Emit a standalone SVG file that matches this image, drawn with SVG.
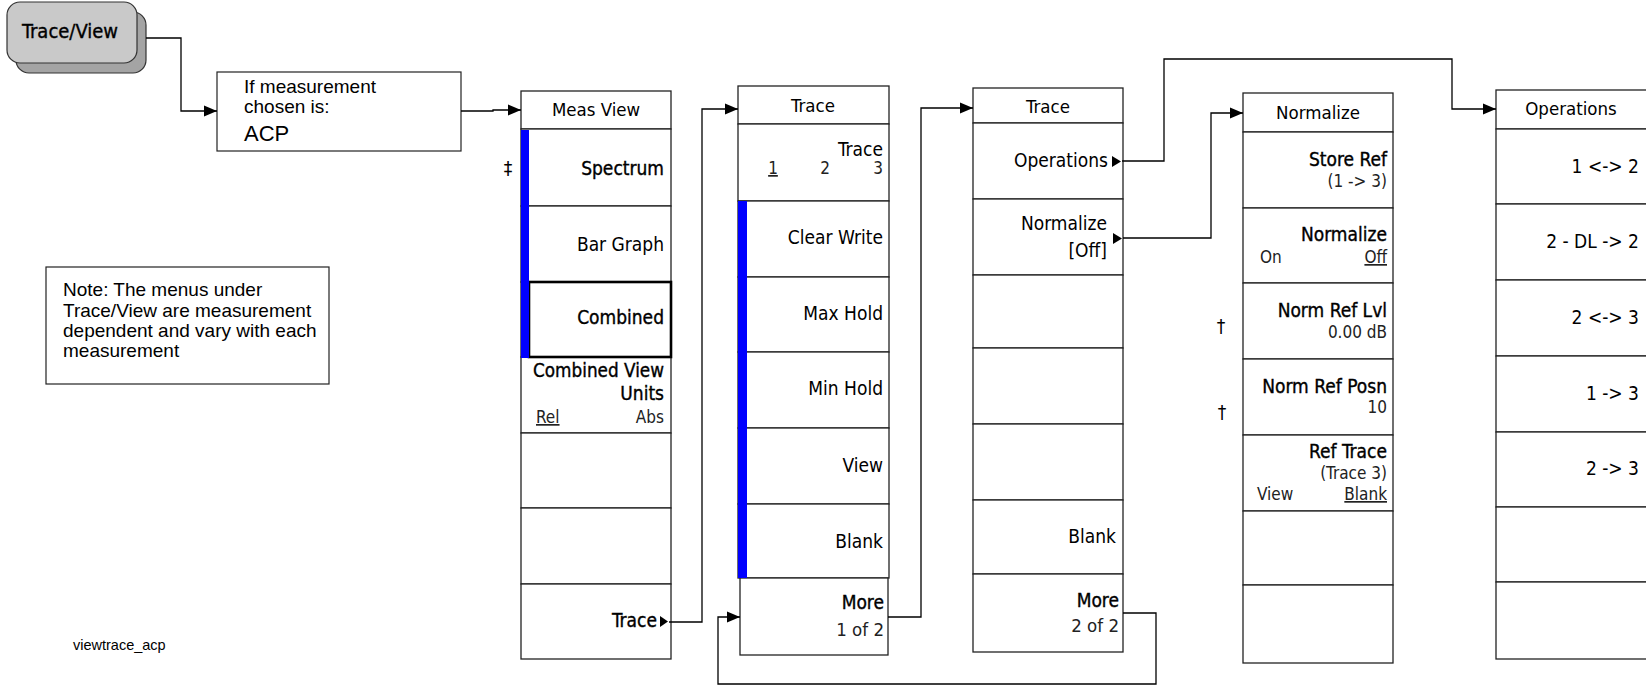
<svg xmlns="http://www.w3.org/2000/svg" width="1646" height="686" viewBox="0 0 1646 686">
<defs>
<marker id="ah" markerUnits="userSpaceOnUse" markerWidth="14" markerHeight="12" refX="13" refY="6" orient="auto">
<path d="M0,0.5 L13,6 L0,11.5 Z" fill="#000"/>
</marker>
<style>
.cell{fill:#fff;stroke:#222;stroke-width:1.3}
.m{font-family:"DejaVu Sans Condensed","DejaVu Sans",sans-serif;font-size:19px;fill:#000}
.h{font-size:18.5px}
.b{stroke:#000;stroke-width:0.35}
.s{font-family:"DejaVu Sans Condensed","DejaVu Sans",sans-serif;font-size:17px;fill:#222}
.r{text-anchor:end}
.c{text-anchor:middle}
.u{text-decoration:underline}
.a{font-family:"Liberation Sans",Arial,sans-serif;fill:#000;font-size:19px}
.con{fill:none;stroke:#000;stroke-width:1.3}
.blue{fill:#0000ff}
.tri{fill:#000}
</style>
</defs>
<rect width="1646" height="686" fill="#fff"/>

<g id="btn-traceview">
<rect x="16" y="12" width="130" height="61" rx="13" fill="#a4a4a4" stroke="#333" stroke-width="1.2"/>
<rect x="7" y="2" width="130" height="61" rx="13" fill="#c9c9c9" stroke="#333" stroke-width="1.2"/>
<text x="70" y="38" class="m c b" style="font-size:20px">Trace/View</text>
</g>

<g id="box-if">
<rect x="217" y="72" width="244" height="79" fill="#fff" stroke="#222" stroke-width="1.2"/>
<text x="244" y="93" class="a">If measurement</text>
<text x="244" y="113" class="a">chosen is:</text>
<text x="244" y="141" class="a" style="font-size:22px">ACP</text>
</g>

<g id="note">
<rect x="46" y="267" width="283" height="117" fill="#fff" stroke="#222" stroke-width="1.2"/>
<text x="63" y="296" class="a">Note: The menus under</text>
<text x="63" y="317" class="a">Trace/View are measurement</text>
<text x="63" y="337" class="a">dependent and vary with each</text>
<text x="63" y="357" class="a">measurement</text>
</g>

<text x="73" y="650" class="a" style="font-size:14.5px">viewtrace_acp</text>

<g id="menu-measview">
<rect class="cell" x="521" y="91" width="150" height="38"/>
<rect class="cell" x="521" y="129" width="150" height="77"/>
<rect class="cell" x="521" y="206" width="150" height="76"/>
<rect class="cell" x="521" y="282" width="150" height="75"/>
<rect class="cell" x="521" y="357" width="150" height="76"/>
<rect class="cell" x="521" y="433" width="150" height="75"/>
<rect class="cell" x="521" y="508" width="150" height="76"/>
<rect class="cell" x="521" y="584" width="150" height="75"/>
<rect x="529" y="282" width="142" height="75" fill="none" stroke="#000" stroke-width="2.6"/>
<rect class="blue" x="521" y="130" width="8" height="228"/>
<text x="596" y="116" class="m h c">Meas View</text>
<text x="664" y="175" class="m r b">Spectrum</text>
<text x="664" y="251" class="m r">Bar Graph</text>
<text x="664" y="324" class="m r b">Combined</text>
<text x="664" y="377" class="m r b" textLength="131" lengthAdjust="spacingAndGlyphs">Combined View</text>
<text x="664" y="400" class="m r b">Units</text>
<text x="536" y="423" class="s u">Rel</text>
<text x="664" y="423" class="s r">Abs</text>
<text x="657" y="627" class="m r b">Trace</text>
<path class="tri" d="M660,616 L668,621.5 L660,627 Z"/>
<text x="508" y="175" class="m c">‡</text>
</g>

<g id="menu-trace1">
<rect class="cell" x="738" y="86" width="151" height="38"/>
<rect class="cell" x="738" y="124" width="151" height="77"/>
<rect class="cell" x="738" y="201" width="151" height="76"/>
<rect class="cell" x="738" y="277" width="151" height="75"/>
<rect class="cell" x="738" y="352" width="151" height="76"/>
<rect class="cell" x="738" y="428" width="151" height="76"/>
<rect class="cell" x="738" y="504" width="151" height="74"/>
<rect class="cell" x="740" y="578" width="148" height="77"/>
<rect class="blue" x="738" y="201" width="9" height="377"/>
<text x="813" y="112" class="m h c">Trace</text>
<text x="883" y="156" class="m r">Trace</text>
<text x="773" y="174" class="s c u">1</text>
<text x="825" y="174" class="s c">2</text>
<text x="883" y="174" class="s r">3</text>
<text x="883" y="244" class="m r">Clear Write</text>
<text x="883" y="320" class="m r">Max Hold</text>
<text x="883" y="395" class="m r">Min Hold</text>
<text x="883" y="472" class="m r">View</text>
<text x="883" y="548" class="m r">Blank</text>
<text x="884" y="609" class="m r b">More</text>
<text x="884" y="636" class="s r" style="font-size:18.5px">1 of 2</text>
</g>

<g id="menu-trace2">
<rect class="cell" x="973" y="88" width="150" height="35"/>
<rect class="cell" x="973" y="123" width="150" height="76"/>
<rect class="cell" x="973" y="199" width="150" height="76"/>
<rect class="cell" x="973" y="275" width="150" height="73"/>
<rect class="cell" x="973" y="348" width="150" height="76"/>
<rect class="cell" x="973" y="424" width="150" height="76"/>
<rect class="cell" x="973" y="500" width="150" height="74"/>
<rect class="cell" x="973" y="574" width="150" height="78"/>
<text x="1048" y="113" class="m h c">Trace</text>
<text x="1108" y="167" class="m r">Operations</text>
<path class="tri" d="M1112,156 L1121,161.5 L1112,167 Z"/>
<text x="1107" y="230" class="m r">Normalize</text>
<text x="1107" y="257" class="m r">[Off]</text>
<path class="tri" d="M1113,233 L1122,238.5 L1113,244 Z"/>
<text x="1116" y="543" class="m r">Blank</text>
<text x="1119" y="607" class="m r b">More</text>
<text x="1119" y="632" class="s r" style="font-size:18.5px">2 of 2</text>
</g>

<g id="menu-normalize">
<rect class="cell" x="1243" y="93" width="150" height="39"/>
<rect class="cell" x="1243" y="132" width="150" height="76"/>
<rect class="cell" x="1243" y="208" width="150" height="75"/>
<rect class="cell" x="1243" y="283" width="150" height="76"/>
<rect class="cell" x="1243" y="359" width="150" height="76"/>
<rect class="cell" x="1243" y="435" width="150" height="76"/>
<rect class="cell" x="1243" y="511" width="150" height="74"/>
<rect class="cell" x="1243" y="585" width="150" height="78"/>
<text x="1318" y="119" class="m h c">Normalize</text>
<text x="1387" y="166" class="m r b">Store Ref</text>
<text x="1387" y="187" class="s r">(1 -&gt; 3)</text>
<text x="1387" y="241" class="m r b">Normalize</text>
<text x="1260" y="263" class="s">On</text>
<text x="1387" y="263" class="s r u">Off</text>
<text x="1387" y="317" class="m r b">Norm Ref Lvl</text>
<text x="1387" y="338" class="s r">0.00 dB</text>
<text x="1387" y="393" class="m r b">Norm Ref Posn</text>
<text x="1387" y="413" class="s r">10</text>
<text x="1387" y="458" class="m r b">Ref Trace</text>
<text x="1387" y="479" class="s r">(Trace 3)</text>
<text x="1257" y="500" class="s">View</text>
<text x="1387" y="500" class="s r u">Blank</text>
<text x="1221" y="333" class="m c">†</text>
<text x="1222" y="419" class="m c">†</text>
</g>

<g id="menu-operations">
<rect class="cell" x="1496" y="90" width="152" height="39"/>
<rect class="cell" x="1496" y="129" width="152" height="75"/>
<rect class="cell" x="1496" y="204" width="152" height="76"/>
<rect class="cell" x="1496" y="280" width="152" height="76"/>
<rect class="cell" x="1496" y="356" width="152" height="76"/>
<rect class="cell" x="1496" y="432" width="152" height="75"/>
<rect class="cell" x="1496" y="507" width="152" height="75"/>
<rect class="cell" x="1496" y="582" width="152" height="77"/>
<text x="1571" y="115" class="m h c">Operations</text>
<text x="1639" y="173" class="m r">1 &lt;-&gt; 2</text>
<text x="1639" y="248" class="m r">2 - DL -&gt; 2</text>
<text x="1639" y="324" class="m r">2 &lt;-&gt; 3</text>
<text x="1639" y="400" class="m r">1 -&gt; 3</text>
<text x="1639" y="475" class="m r">2 -&gt; 3</text>
</g>

<g id="connectors">
<path class="con" d="M146,38 H181 V111 H217" marker-end="url(#ah)"/>
<path class="con" d="M461,111 H493 V110 H521" marker-end="url(#ah)"/>
<path class="con" d="M669,622 H702 V109 H738" marker-end="url(#ah)"/>
<path class="con" d="M888,617 H921 V108 H973" marker-end="url(#ah)"/>
<path class="con" d="M1123,613 H1156 V684 H718 V617 H740" marker-end="url(#ah)"/>
<path class="con" d="M1122,161 H1164 V59 H1452 V109 H1496" marker-end="url(#ah)"/>
<path class="con" d="M1123,238 H1211 V113 H1243" marker-end="url(#ah)"/>
</g>
</svg>
